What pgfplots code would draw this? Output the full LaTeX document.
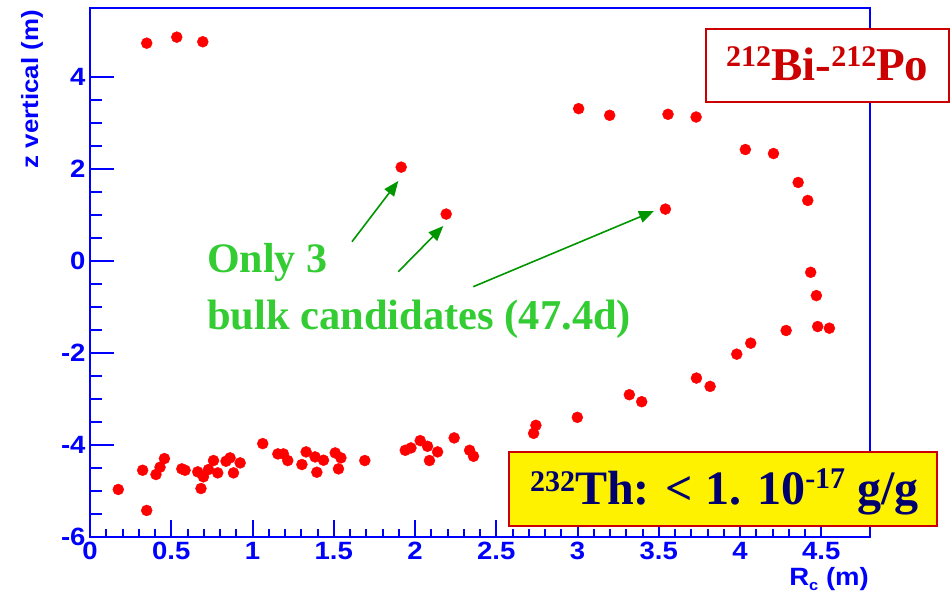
\documentclass[border=0pt]{standalone}
\usepackage{fontspec}
\setmainfont{Liberation Serif}
\setsansfont{Liberation Sans}[FakeStretch=1.1]
\usepackage{pgfplots}
\pgfplotsset{compat=1.18}
\usetikzlibrary{arrows.meta}
\definecolor{rootblue}{RGB}{0,0,255}
\definecolor{rootred}{RGB}{255,0,0}
\definecolor{boxred}{RGB}{204,0,0}
\definecolor{navy}{RGB}{0,0,110}
\definecolor{txtgreen}{RGB}{51,204,51}
\definecolor{arrgreen}{RGB}{0,150,0}
\newcommand\sups[2]{\raisebox{#2}{\fontsize{30}{30}\selectfont #1}}
\begin{document}
\begin{tikzpicture}
\path[use as bounding box] (0,0) rectangle (951pt,592pt);
% y ticks, labels and data
\begin{axis}[
  at={(90pt,55pt)}, anchor=south west,
  scale only axis, width=780pt, height=529pt,
  xmin=0, xmax=4.8, ymin=-6, ymax=5.5,
  xtick=\empty, ytick={-6,-4,...,4},
  minor y tick num=3,
  ytick pos=left, tick align=inside,
  major tick length=24pt, minor tick length=12pt,
  tick style={rootblue, line width=2pt},
  axis line style={rootblue, line width=1.2pt},
  /pgf/number format/assume math mode=true,
  tick label style={font=\sffamily\bfseries\fontsize{25}{25}\selectfont, text=rootblue},
  yticklabel style={xshift=-1pt},
  clip=false,
]
\draw[rootblue, line width=2.6pt] (axis cs:0,5.5) -- (axis cs:0,-6) -- (axis cs:4.8,-6);
\addplot[only marks, mark=*, mark size=5.5pt, rootred, mark options={draw=rootred, fill=rootred}] coordinates {
(0.349,4.735) (0.534,4.866) (0.694,4.766)
(3.007,3.312) (3.198,3.167) (3.557,3.189) (3.730,3.130)
(4.033,2.423) (4.206,2.336) (4.358,1.707) (4.417,1.316)
(4.435,-0.246) (4.470,-0.752) (4.478,-1.425) (4.550,-1.461) (4.284,-1.511) (4.066,-1.786)
(3.980,-2.025) (3.732,-2.545) (3.816,-2.726) (3.319,-2.907) (3.395,-3.059)
(2.999,-3.399) (2.744,-3.572) (2.730,-3.746)
(1.915,2.04) (2.192,1.02) (3.541,1.128)
(0.174,-4.967) (0.324,-4.549) (0.349,-5.423) (0.406,-4.642) (0.431,-4.483) (0.458,-4.295)
(0.565,-4.519) (0.585,-4.549) (0.663,-4.584) (0.683,-4.946) (0.698,-4.692) (0.729,-4.534)
(0.760,-4.338) (0.786,-4.606) (0.837,-4.353) (0.862,-4.280) (0.883,-4.606) (0.924,-4.389)
(1.063,-3.970) (1.156,-4.194) (1.190,-4.194) (1.217,-4.338)
(1.304,-4.425) (1.330,-4.150) (1.396,-4.592) (1.385,-4.259) (1.437,-4.331)
(1.509,-4.172) (1.529,-4.519) (1.544,-4.280) (1.691,-4.338)
(1.940,-4.115) (1.975,-4.064) (2.032,-3.905) (2.077,-4.028) (2.089,-4.338) (2.139,-4.150)
(2.241,-3.846) (2.336,-4.115) (2.360,-4.245)
};
\end{axis}
% x ticks and labels
\begin{axis}[
  at={(90pt,55pt)}, anchor=south west,
  scale only axis, width=780pt, height=529pt,
  xmin=0, xmax=4.8, ymin=-6, ymax=5.5,
  xtick={0,0.5,...,4.5}, ytick=\empty,
  minor x tick num=4,
  xtick pos=bottom, tick align=inside,
  major tick length=17pt, minor tick length=8pt,
  tick style={rootblue, line width=2pt},
  axis line style={draw=none},
  /pgf/number format/assume math mode=true,
  tick label style={font=\sffamily\bfseries\fontsize{25}{25}\selectfont, text=rootblue},
  xticklabel style={yshift=-2pt},
]
\end{axis}
% axis titles
\node[rotate=90, anchor=east, inner sep=0pt, text=rootblue, font=\sffamily\bfseries\fontsize{23.5}{23.5}\selectfont] at (32pt,582pt) {z vertical (m)};
\node[anchor=east, inner sep=0pt, text=rootblue, font=\sffamily\bfseries\fontsize{25}{25}\selectfont] at (869pt,13pt) {R\raisebox{-5pt}{\fontsize{15}{15}\selectfont c} (m)};
% green annotation
\node[anchor=base west, inner sep=0pt, text=txtgreen, font=\bfseries\fontsize{42}{42}\selectfont] at (207pt,319pt) {Only 3};
\node[anchor=base west, inner sep=0pt, text=txtgreen, font=\bfseries\fontsize{42.5}{42.5}\selectfont] at (207pt,262pt) {bulk candidates (47.4d)};
\draw[arrgreen, line width=1.6pt, -{Triangle[length=15pt,width=12pt]}] (352pt,350.3pt) -- (398.3pt,411pt);
\draw[arrgreen, line width=1.6pt, -{Triangle[length=15pt,width=12pt]}] (398.3pt,320.3pt) -- (443.3pt,366pt);
\draw[arrgreen, line width=1.6pt, -{Triangle[length=15pt,width=12pt]}] (473.3pt,305.3pt) -- (654pt,381pt);
% red box
\draw[boxred, fill=white, line width=1.5pt] (706pt,563pt) rectangle (949pt,490pt);
\node[anchor=base west, inner sep=0pt, text=boxred, font=\bfseries\fontsize{47}{47}\selectfont] at (726pt,511pt) {\sups{212}{14pt}Bi-\sups{212}{14pt}Po};
% yellow box
\draw[boxred, fill=yellow, line width=1.5pt] (509pt,140pt) rectangle (937pt,66pt);
\node[anchor=base west, inner sep=0pt, text=navy, font=\bfseries\fontsize{48}{48}\selectfont] at (530pt,87pt) {\sups{232}{13pt}Th: < 1. 10\sups{-17}{16pt} g/g};
\end{tikzpicture}
\end{document}
